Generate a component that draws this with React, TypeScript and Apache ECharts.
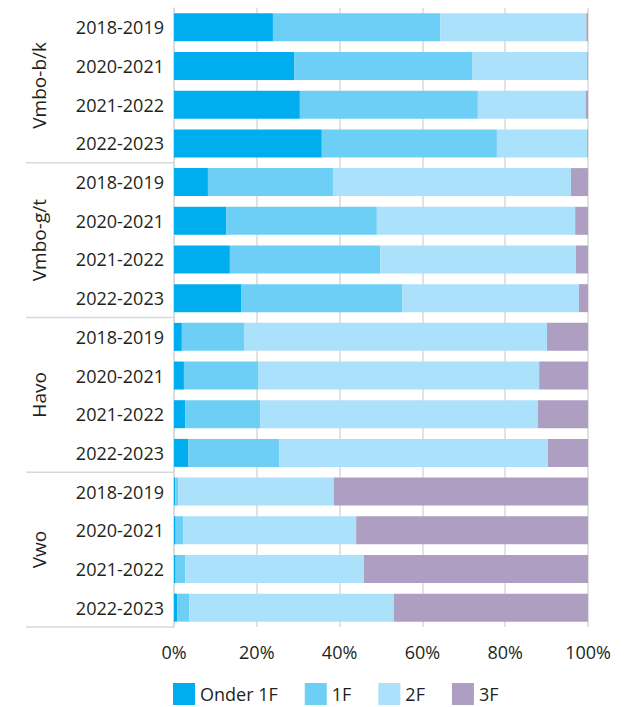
import React, { useEffect, useRef } from 'react';
import * as echarts from 'echarts';

const groups = ['Vmbo-b/k', 'Vmbo-g/t', 'Havo', 'Vwo'];
const years = ['2018-2019', '2020-2021', '2021-2022', '2022-2023'];
const seriesNames = ['Onder 1F', '1F', '2F', '3F'];

const onder1F = [23.9, 29.0, 30.4, 35.7, 8.2, 12.6, 13.5, 16.2, 1.9, 2.4, 2.7, 3.4, 0.3, 0.4, 0.4, 0.8];
const niveau1F = [40.4, 43.0, 43.0, 42.3, 30.2, 36.4, 36.3, 38.9, 15.0, 17.9, 18.1, 22.0, 0.7, 1.8, 2.3, 2.9];
const niveau2F = [35.3, 27.8, 26.1, 21.8, 57.5, 47.9, 47.3, 42.7, 73.2, 67.9, 67.1, 64.9, 37.6, 41.8, 43.2, 49.4];
const niveau3F = [0.4, 0.2, 0.5, 0.2, 4.1, 3.1, 2.9, 2.2, 9.9, 11.8, 12.1, 9.7, 61.4, 56.0, 54.1, 46.9];

const xMin = 0;
const xMax = 100;
const xInterval = 20;

const colors = ['#00aeef', '#6dcff6', '#abe1fa', '#ae9fc2'];
const FONT = "'Open Sans', sans-serif";
const TEXT = '#231f20';

export default function App() {
  const ref = useRef<HTMLDivElement>(null);
  useEffect(() => {
    document.body.style.margin = '0';
    const chart = echarts.init(ref.current!, null, { renderer: 'svg' });
    const rowKeys = groups.flatMap((g) => years.map((y) => g + '|' + y));
    const values = [onder1F, niveau1F, niveau2F, niveau3F];
    chart.setOption({
      animation: false,
      textStyle: { fontFamily: FONT },
      grid: { left: 174, right: 40, top: 8, bottom: 80 },
      legend: {
        data: seriesNames,
        left: 173,
        top: 683,
        padding: 0,
        itemWidth: 22,
        itemHeight: 22,
        itemGap: 27,
        icon: 'rect',
        textStyle: { fontSize: 18, color: TEXT, fontFamily: FONT },
      },
      xAxis: {
        type: 'value',
        min: xMin,
        max: xMax,
        interval: xInterval,
        axisLine: { show: false },
        axisTick: { show: false },
        axisLabel: { formatter: '{value}%', fontSize: 18, color: TEXT, margin: 16, fontFamily: FONT },
        splitLine: { show: true, lineStyle: { color: '#d9d9d9', width: 1.5 } },
      },
      yAxis: {
        type: 'category',
        data: rowKeys,
        inverse: true,
        axisLine: { show: true, lineStyle: { color: '#d9d9d9', width: 1.5 } },
        axisTick: { show: false },
        axisLabel: {
          formatter: (v: string) => v.split('|')[1],
          fontSize: 18,
          color: TEXT,
          margin: 10,
          fontFamily: FONT,
        },
      },
      series: seriesNames.map((name, i) => ({
        name,
        type: 'bar',
        stack: 'total',
        barWidth: 28,
        data: values[i],
        itemStyle: { color: colors[i] },
      })),
    });

    const x0 = chart.convertToPixel({ xAxisIndex: 0 }, 0) as number;
    const yc = (i: number) => chart.convertToPixel({ yAxisIndex: 0 }, i) as number;
    const band = yc(1) - yc(0);
    const graphics: any[] = [];
    groups.forEach((g, gi) => {
      const first = gi * 4;
      const last = gi * 4 + 3;
      const center = (yc(first) + yc(last)) / 2;
      const boundary = yc(last) + band / 2;
      graphics.push({
        type: 'line',
        shape: { x1: x0 - 148, y1: boundary, x2: x0, y2: boundary },
        style: { stroke: '#d9d9d9', lineWidth: 1.5 },
      });
      graphics.push({
        type: 'text',
        x: x0 - 135,
        y: center,
        rotation: Math.PI / 2,
        style: {
          text: g,
          fontSize: 19,
          fontFamily: FONT,
          fill: TEXT,
          align: 'center',
          verticalAlign: 'middle',
        },
      });
    });
    chart.setOption({ graphic: graphics });

    return () => chart.dispose();
  }, []);
  return <div ref={ref} style={{ width: 628, height: 707 }} />;
}
